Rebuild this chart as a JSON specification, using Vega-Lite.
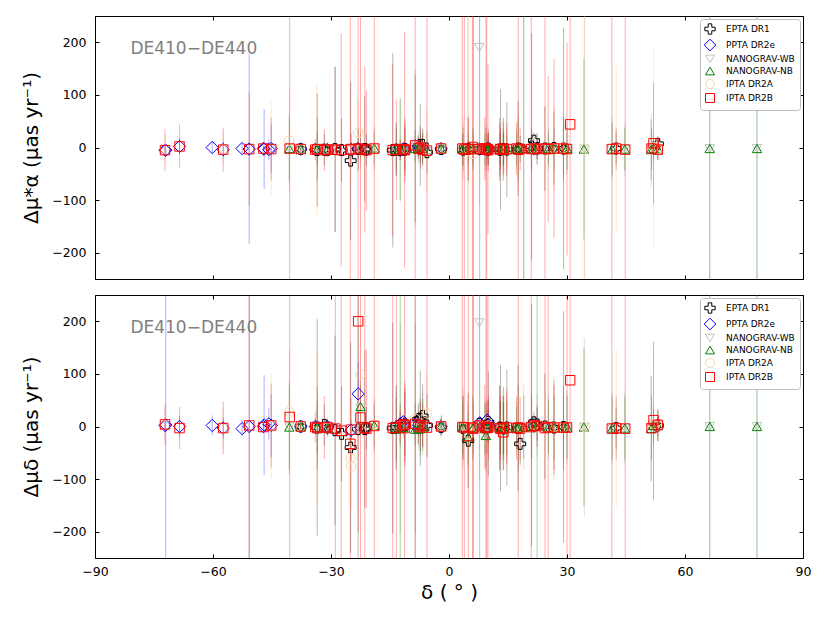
{
  "$schema": "https://vega.github.io/schema/vega-lite/v6.json",
  "padding": {"left": 21, "top": 15, "right": 25, "bottom": 18},
  "spacing": 16,
  "bounds": "flush",
  "datasets": {
    "pts": [
      {"c":"EPTA DR1","x":4.9,"a":-3,"al":-63,"ah":57,"d":-27,"dl":-117,"dh":63},
      {"c":"EPTA DR1","x":-5.6,"a":-9,"al":-49,"ah":31,"d":2,"dl":-58,"dh":62},
      {"c":"EPTA DR1","x":42.5,"a":-2,"al":-32,"ah":28,"d":-3,"dl":-43,"dh":37},
      {"c":"EPTA DR1","x":-21.0,"a":-4,"al":-34,"ah":26,"d":-3,"dl":-43,"dh":37},
      {"c":"EPTA DR1","x":-2.0,"a":-3,"al":-11,"ah":5,"d":-1,"dl":-16,"dh":14},
      {"c":"EPTA DR1","x":10.0,"a":-4,"al":-34,"ah":26,"d":8,"dl":-32,"dh":48},
      {"c":"EPTA DR1","x":18.1,"a":-3,"al":-28,"ah":22,"d":-33,"dl":-73,"dh":7},
      {"c":"EPTA DR1","x":-31.7,"a":-4,"al":-34,"ah":26,"d":3,"dl":-37,"dh":43},
      {"c":"EPTA DR1","x":53.1,"a":7,"al":-8,"ah":22,"d":2,"dl":-18,"dh":22},
      {"c":"EPTA DR1","x":10.0,"a":-2,"al":-32,"ah":28,"d":5,"dl":-95,"dh":105},
      {"c":"EPTA DR1","x":-7.3,"a":5,"al":-73,"ah":83,"d":15,"dl":-75,"dh":105},
      {"c":"EPTA DR1","x":-33.5,"a":-5,"al":-113,"ah":103,"d":-2,"dl":-208,"dh":204},
      {"c":"EPTA DR1","x":-30.9,"a":-5,"al":-15,"ah":5,"d":-2,"dl":-17,"dh":13},
      {"c":"EPTA DR1","x":22.4,"a":-2,"al":-22,"ah":18,"d":4,"dl":-26,"dh":34},
      {"c":"EPTA DR1","x":-12.4,"a":-5,"al":-25,"ah":15,"d":3,"dl":-37,"dh":43},
      {"c":"EPTA DR1","x":7.8,"a":-3,"al":-8,"ah":2,"d":5,"dl":-3,"dh":13},
      {"c":"EPTA DR1","x":-25.0,"a":-25,"al":-175,"ah":125,"d":-40,"dl":-240,"dh":160},
      {"c":"EPTA DR1","x":-23.1,"a":-3,"al":-43,"ah":37,"d":-5,"dl":-405,"dh":395},
      {"c":"EPTA DR1","x":3.6,"a":-4,"al":-34,"ah":26,"d":-3,"dl":-63,"dh":57},
      {"c":"EPTA DR1","x":-11.6,"a":-4,"al":-12,"ah":4,"d":2,"dl":-13,"dh":17},
      {"c":"EPTA DR1","x":-29.0,"a":-3,"al":-160,"ah":154,"d":-7,"dl":-187,"dh":173},
      {"c":"EPTA DR1","x":-14.3,"a":-5,"al":-190,"ah":180,"d":-3,"dl":-203,"dh":197},
      {"c":"EPTA DR1","x":-21.4,"a":-3,"al":-103,"ah":97,"d":-5,"dl":-155,"dh":145},
      {"c":"EPTA DR1","x":-27.3,"a":-5,"al":-65,"ah":55,"d":-14,"dl":-104,"dh":76},
      {"c":"EPTA DR1","x":-11.2,"a":-3,"al":-43,"ah":37,"d":4,"dl":-56,"dh":64},
      {"c":"EPTA DR1","x":13.1,"a":-4,"al":-119,"ah":111,"d":-3,"dl":-123,"dh":117},
      {"c":"EPTA DR1","x":9.7,"a":-3,"al":-23,"ah":17,"d":2,"dl":-28,"dh":32},
      {"c":"EPTA DR1","x":-37.7,"a":-3,"al":-8,"ah":2,"d":0,"dl":-10,"dh":10},
      {"c":"EPTA DR1","x":12.9,"a":-4,"al":-54,"ah":46,"d":-2,"dl":-82,"dh":78},
      {"c":"EPTA DR1","x":13.8,"a":-3,"al":-63,"ah":57,"d":-4,"dl":-84,"dh":76},
      {"c":"EPTA DR1","x":-11.2,"a":-4,"al":-54,"ah":46,"d":3,"dl":-67,"dh":73},
      {"c":"EPTA DR1","x":-6.7,"a":5,"al":-25,"ah":35,"d":20,"dl":-40,"dh":80},
      {"c":"EPTA DR1","x":21.6,"a":13,"al":-2,"ah":28,"d":8,"dl":-12,"dh":28},
      {"c":"EPTA DR1","x":29.1,"a":-2,"al":-232,"ah":228,"d":-1,"dl":-221,"dh":219},
      {"c":"EPTA DR1","x":-13.4,"a":-4,"al":-54,"ah":46,"d":-2,"dl":-82,"dh":78},
      {"c":"EPTA DR1","x":24.4,"a":-2,"al":-82,"ah":78,"d":0,"dl":-100,"dh":100},
      {"c":"EPTA DR1","x":17.6,"a":-2,"al":-92,"ah":88,"d":-3,"dl":-123,"dh":117},
      {"c":"EPTA DR1","x":-7.8,"a":3,"al":-17,"ah":23,"d":14,"dl":-16,"dh":44},
      {"c":"EPTA DR1","x":26.7,"a":-1,"al":-71,"ah":69,"d":-2,"dl":-92,"dh":88},
      {"c":"EPTA DR1","x":14.7,"a":-4,"al":-94,"ah":86,"d":-2,"dl":-112,"dh":108},
      {"c":"EPTA DR1","x":21.0,"a":2,"al":-213,"ah":217,"d":3,"dl":-227,"dh":233},
      {"c":"PPTA DR2e","x":-47.2,"a":-2,"al":-7,"ah":3,"d":0,"dl":-5,"dh":5},
      {"c":"PPTA DR2e","x":-2.0,"a":-2,"al":-12,"ah":8,"d":0,"dl":-15,"dh":15},
      {"c":"PPTA DR2e","x":-68.5,"a":2,"al":-13,"ah":17,"d":0,"dl":-20,"dh":20},
      {"c":"PPTA DR2e","x":-72.0,"a":-5,"al":-15,"ah":5,"d":3,"dl":-397,"dh":403},
      {"c":"PPTA DR2e","x":10.0,"a":-3,"al":-18,"ah":12,"d":3,"dl":-27,"dh":33},
      {"c":"PPTA DR2e","x":-7.3,"a":-2,"al":-12,"ah":8,"d":2,"dl":-18,"dh":22},
      {"c":"PPTA DR2e","x":-45.2,"a":-2,"al":-48,"ah":44,"d":2,"dl":-58,"dh":62},
      {"c":"PPTA DR2e","x":-60.2,"a":0,"al":-12,"ah":12,"d":2,"dl":-17,"dh":21},
      {"c":"PPTA DR2e","x":-47.0,"a":-3,"al":-79,"ah":73,"d":3,"dl":-92,"dh":98},
      {"c":"PPTA DR2e","x":-45.8,"a":-4,"al":-24,"ah":16,"d":5,"dl":-25,"dh":35},
      {"c":"PPTA DR2e","x":-30.9,"a":-4,"al":-14,"ah":6,"d":0,"dl":-10,"dh":10},
      {"c":"PPTA DR2e","x":-72.2,"a":-5,"al":-13,"ah":3,"d":2,"dl":-8,"dh":12},
      {"c":"PPTA DR2e","x":-12.4,"a":-5,"al":-15,"ah":5,"d":5,"dl":-15,"dh":25},
      {"c":"PPTA DR2e","x":7.8,"a":-3,"al":-8,"ah":2,"d":7,"dl":-1,"dh":15},
      {"c":"PPTA DR2e","x":-23.1,"a":-2,"al":-22,"ah":18,"d":62,"dl":2,"dh":122},
      {"c":"PPTA DR2e","x":-50.8,"a":-3,"al":-183,"ah":177,"d":0,"dl":-400,"dh":400},
      {"c":"PPTA DR2e","x":-11.6,"a":-3,"al":-8,"ah":2,"d":9,"dl":-1,"dh":19},
      {"c":"PPTA DR2e","x":-24.9,"a":-4,"al":-19,"ah":11,"d":-7,"dl":-27,"dh":13},
      {"c":"PPTA DR2e","x":-8.6,"a":3,"al":-27,"ah":33,"d":4,"dl":-36,"dh":44},
      {"c":"PPTA DR2e","x":9.7,"a":-3,"al":-13,"ah":7,"d":12,"dl":-3,"dh":27},
      {"c":"PPTA DR2e","x":-37.7,"a":-3,"al":-6,"ah":0,"d":0,"dl":-5,"dh":5},
      {"c":"PPTA DR2e","x":21.6,"a":-2,"al":-7,"ah":3,"d":3,"dl":-7,"dh":13},
      {"c":"PPTA DR2e","x":-34.0,"a":-4,"al":-14,"ah":6,"d":0,"dl":-15,"dh":15},
      {"c":"PPTA DR2e","x":-57.4,"a":-4,"al":-19,"ah":11,"d":-3,"dl":-23,"dh":17},
      {"c":"PPTA DR2e","x":-7.8,"a":2,"al":-8,"ah":12,"d":3,"dl":-12,"dh":18},
      {"c":"PPTA DR2e","x":-52.6,"a":-2,"al":-12,"ah":8,"d":-4,"dl":-19,"dh":11},
      {"c":"NANOGRAV-WB","x":9.4,"a":-3,"al":-53,"ah":47,"d":-15,"dl":-85,"dh":55},
      {"c":"NANOGRAV-WB","x":4.8,"a":-2,"al":-402,"ah":398,"d":-18,"dl":-78,"dh":42},
      {"c":"NANOGRAV-WB","x":41.5,"a":-3,"al":-63,"ah":57,"d":-3,"dl":-73,"dh":67},
      {"c":"NANOGRAV-WB","x":-2.0,"a":-2,"al":-12,"ah":8,"d":1,"dl":-19,"dh":21},
      {"c":"NANOGRAV-WB","x":51.4,"a":-4,"al":-74,"ah":66,"d":-3,"dl":-103,"dh":97},
      {"c":"NANOGRAV-WB","x":52.0,"a":-2,"al":-32,"ah":28,"d":2,"dl":-38,"dh":42},
      {"c":"NANOGRAV-WB","x":66.3,"a":-2,"al":-402,"ah":398,"d":0,"dl":-400,"dh":400},
      {"c":"NANOGRAV-WB","x":-19.0,"a":-1,"al":-41,"ah":39,"d":2,"dl":-48,"dh":52},
      {"c":"NANOGRAV-WB","x":53.1,"a":-3,"al":-23,"ah":17,"d":2,"dl":-28,"dh":32},
      {"c":"NANOGRAV-WB","x":-7.3,"a":2,"al":-38,"ah":42,"d":-3,"dl":-63,"dh":57},
      {"c":"NANOGRAV-WB","x":78.3,"a":-2,"al":-402,"ah":398,"d":0,"dl":-400,"dh":400},
      {"c":"NANOGRAV-WB","x":-33.5,"a":-3,"al":-43,"ah":37,"d":-2,"dl":-62,"dh":58},
      {"c":"NANOGRAV-WB","x":-30.9,"a":-4,"al":-19,"ah":11,"d":-2,"dl":-22,"dh":18},
      {"c":"NANOGRAV-WB","x":-22.5,"a":-2,"al":-32,"ah":28,"d":35,"dl":-15,"dh":85},
      {"c":"NANOGRAV-WB","x":22.4,"a":-2,"al":-32,"ah":28,"d":2,"dl":-58,"dh":62},
      {"c":"NANOGRAV-WB","x":-12.4,"a":-4,"al":-104,"ah":96,"d":-3,"dl":-203,"dh":197},
      {"c":"NANOGRAV-WB","x":7.7,"a":190,"al":-110,"ah":490,"d":197,"dl":-103,"dh":497},
      {"c":"NANOGRAV-WB","x":3.6,"a":-3,"al":-53,"ah":47,"d":-2,"dl":-72,"dh":68},
      {"c":"NANOGRAV-WB","x":-11.6,"a":-3,"al":-18,"ah":12,"d":-2,"dl":-22,"dh":18},
      {"c":"NANOGRAV-WB","x":-40.6,"a":-2,"al":-72,"ah":68,"d":-1,"dl":-91,"dh":89},
      {"c":"NANOGRAV-WB","x":-8.6,"a":-2,"al":-152,"ah":148,"d":-4,"dl":-204,"dh":196},
      {"c":"NANOGRAV-WB","x":13.1,"a":-3,"al":-43,"ah":37,"d":-2,"dl":-62,"dh":58},
      {"c":"NANOGRAV-WB","x":-37.7,"a":-3,"al":-8,"ah":2,"d":0,"dl":-5,"dh":5},
      {"c":"NANOGRAV-WB","x":-6.7,"a":-2,"al":-42,"ah":38,"d":3,"dl":-57,"dh":63},
      {"c":"NANOGRAV-WB","x":25.3,"a":-2,"al":-42,"ah":38,"d":-1,"dl":-61,"dh":59},
      {"c":"NANOGRAV-WB","x":21.6,"a":-2,"al":-17,"ah":13,"d":2,"dl":-18,"dh":22},
      {"c":"NANOGRAV-WB","x":-13.4,"a":-4,"al":-54,"ah":46,"d":-4,"dl":-74,"dh":66},
      {"c":"NANOGRAV-WB","x":17.2,"a":-3,"al":-43,"ah":37,"d":-3,"dl":-53,"dh":47},
      {"c":"NANOGRAV-WB","x":-7.8,"a":-1,"al":-31,"ah":29,"d":-4,"dl":-44,"dh":36},
      {"c":"NANOGRAV-WB","x":30.0,"a":-2,"al":-52,"ah":48,"d":-1,"dl":-71,"dh":69},
      {"c":"NANOGRAV-WB","x":44.7,"a":-3,"al":-53,"ah":47,"d":-3,"dl":-73,"dh":67},
      {"c":"NANOGRAV-WB","x":34.4,"a":-3,"al":-403,"ah":397,"d":-1,"dl":-171,"dh":169},
      {"c":"NANOGRAV-WB","x":14.7,"a":-3,"al":-43,"ah":37,"d":-3,"dl":-63,"dh":57},
      {"c":"NANOGRAV-WB","x":19.0,"a":-2,"al":-302,"ah":298,"d":-1,"dl":-81,"dh":79},
      {"c":"NANOGRAV-NB","x":9.4,"a":-3,"al":-43,"ah":37,"d":-17,"dl":-77,"dh":43},
      {"c":"NANOGRAV-NB","x":4.9,"a":-2,"al":-32,"ah":28,"d":-20,"dl":-70,"dh":30},
      {"c":"NANOGRAV-NB","x":41.5,"a":-3,"al":-53,"ah":47,"d":-3,"dl":-63,"dh":57},
      {"c":"NANOGRAV-NB","x":-2.0,"a":-2,"al":-12,"ah":8,"d":1,"dl":-19,"dh":21},
      {"c":"NANOGRAV-NB","x":51.4,"a":-4,"al":-62,"ah":54,"d":-4,"dl":-104,"dh":96},
      {"c":"NANOGRAV-NB","x":52.0,"a":-2,"al":-22,"ah":18,"d":2,"dl":-28,"dh":32},
      {"c":"NANOGRAV-NB","x":66.3,"a":-2,"al":-402,"ah":398,"d":0,"dl":-400,"dh":400},
      {"c":"NANOGRAV-NB","x":-19.0,"a":-1,"al":-31,"ah":29,"d":2,"dl":-38,"dh":42},
      {"c":"NANOGRAV-NB","x":53.1,"a":-3,"al":-23,"ah":17,"d":2,"dl":-28,"dh":32},
      {"c":"NANOGRAV-NB","x":-7.3,"a":2,"al":-28,"ah":32,"d":-4,"dl":-54,"dh":46},
      {"c":"NANOGRAV-NB","x":78.3,"a":-2,"al":-402,"ah":398,"d":0,"dl":-400,"dh":400},
      {"c":"NANOGRAV-NB","x":19.0,"a":-2,"al":-402,"ah":398,"d":-1,"dl":-61,"dh":59},
      {"c":"NANOGRAV-NB","x":-33.5,"a":-3,"al":-33,"ah":27,"d":-2,"dl":-52,"dh":48},
      {"c":"NANOGRAV-NB","x":-30.9,"a":-4,"al":-14,"ah":6,"d":-2,"dl":-17,"dh":13},
      {"c":"NANOGRAV-NB","x":-22.5,"a":-2,"al":-22,"ah":18,"d":38,"dl":-2,"dh":78},
      {"c":"NANOGRAV-NB","x":22.4,"a":-2,"al":-22,"ah":18,"d":2,"dl":-398,"dh":402},
      {"c":"NANOGRAV-NB","x":-12.4,"a":-4,"al":-100,"ah":92,"d":-3,"dl":-403,"dh":397},
      {"c":"NANOGRAV-NB","x":7.8,"a":-3,"al":-403,"ah":397,"d":0,"dl":-400,"dh":400},
      {"c":"NANOGRAV-NB","x":3.6,"a":-3,"al":-43,"ah":37,"d":-2,"dl":-62,"dh":58},
      {"c":"NANOGRAV-NB","x":13.9,"a":-4,"al":-34,"ah":26,"d":-3,"dl":-53,"dh":47},
      {"c":"NANOGRAV-NB","x":-11.6,"a":-3,"al":-13,"ah":7,"d":-2,"dl":-17,"dh":13},
      {"c":"NANOGRAV-NB","x":-40.6,"a":-2,"al":-62,"ah":58,"d":-1,"dl":-81,"dh":79},
      {"c":"NANOGRAV-NB","x":-8.6,"a":-2,"al":-142,"ah":138,"d":-5,"dl":-405,"dh":395},
      {"c":"NANOGRAV-NB","x":13.1,"a":-3,"al":-33,"ah":27,"d":-2,"dl":-52,"dh":48},
      {"c":"NANOGRAV-NB","x":9.7,"a":-2,"al":-12,"ah":8,"d":-3,"dl":-23,"dh":17},
      {"c":"NANOGRAV-NB","x":3.45,"a":-3,"al":-33,"ah":27,"d":-2,"dl":-52,"dh":48},
      {"c":"NANOGRAV-NB","x":-37.7,"a":-3,"al":-6,"ah":0,"d":0,"dl":-5,"dh":5},
      {"c":"NANOGRAV-NB","x":12.9,"a":-3,"al":-33,"ah":27,"d":-2,"dl":-52,"dh":48},
      {"c":"NANOGRAV-NB","x":13.8,"a":-2,"al":-32,"ah":28,"d":-4,"dl":-54,"dh":46},
      {"c":"NANOGRAV-NB","x":-6.7,"a":-2,"al":-32,"ah":28,"d":3,"dl":-47,"dh":53},
      {"c":"NANOGRAV-NB","x":25.3,"a":-2,"al":-32,"ah":28,"d":-1,"dl":-51,"dh":49},
      {"c":"NANOGRAV-NB","x":21.6,"a":-2,"al":-12,"ah":8,"d":2,"dl":-13,"dh":17},
      {"c":"NANOGRAV-NB","x":9.1,"a":-3,"al":-33,"ah":27,"d":-4,"dl":-54,"dh":46},
      {"c":"NANOGRAV-NB","x":29.1,"a":-1,"al":-51,"ah":49,"d":-2,"dl":-62,"dh":58},
      {"c":"NANOGRAV-NB","x":-13.4,"a":-4,"al":-44,"ah":36,"d":-5,"dl":-65,"dh":55},
      {"c":"NANOGRAV-NB","x":6.05,"a":-2,"al":-42,"ah":38,"d":-3,"dl":-63,"dh":57},
      {"c":"NANOGRAV-NB","x":17.6,"a":-3,"al":-63,"ah":57,"d":-2,"dl":-82,"dh":78},
      {"c":"NANOGRAV-NB","x":17.2,"a":-3,"al":-33,"ah":27,"d":-3,"dl":-43,"dh":37},
      {"c":"NANOGRAV-NB","x":-7.8,"a":-1,"al":-21,"ah":19,"d":-5,"dl":-35,"dh":25},
      {"c":"NANOGRAV-NB","x":30.0,"a":-2,"al":-42,"ah":38,"d":-1,"dl":-61,"dh":59},
      {"c":"NANOGRAV-NB","x":26.7,"a":-2,"al":-42,"ah":38,"d":-2,"dl":-62,"dh":58},
      {"c":"NANOGRAV-NB","x":6.2,"a":-2,"al":-32,"ah":28,"d":-2,"dl":-52,"dh":48},
      {"c":"NANOGRAV-NB","x":9.7,"a":-3,"al":-33,"ah":27,"d":-1,"dl":-51,"dh":49},
      {"c":"NANOGRAV-NB","x":44.7,"a":-3,"al":-43,"ah":37,"d":-3,"dl":-63,"dh":57},
      {"c":"NANOGRAV-NB","x":14.7,"a":-3,"al":-33,"ah":27,"d":-3,"dl":-53,"dh":47},
      {"c":"NANOGRAV-NB","x":34.3,"a":-3,"al":-175,"ah":169,"d":-1,"dl":-151,"dh":149},
      {"c":"NANOGRAV-NB","x":21.0,"a":-2,"al":-42,"ah":38,"d":0,"dl":-60,"dh":60},
      {"c":"IPTA DR2A","x":-72.2,"a":-4,"al":-34,"ah":26,"d":3,"dl":-27,"dh":33},
      {"c":"IPTA DR2A","x":-57.4,"a":-3,"al":-33,"ah":27,"d":-4,"dl":-44,"dh":36},
      {"c":"IPTA DR2A","x":-45.2,"a":-3,"al":-93,"ah":87,"d":1,"dl":-99,"dh":101},
      {"c":"IPTA DR2A","x":-40.6,"a":13,"al":-87,"ah":113,"d":28,"dl":-92,"dh":148},
      {"c":"IPTA DR2A","x":-37.7,"a":-3,"al":-8,"ah":2,"d":0,"dl":-5,"dh":5},
      {"c":"IPTA DR2A","x":-33.6,"a":-4,"al":-130,"ah":122,"d":-2,"dl":-152,"dh":148},
      {"c":"IPTA DR2A","x":-30.9,"a":-4,"al":-14,"ah":6,"d":-2,"dl":-17,"dh":13},
      {"c":"IPTA DR2A","x":-25.0,"a":-5,"al":-65,"ah":55,"d":-60,"dl":-160,"dh":40},
      {"c":"IPTA DR2A","x":-24.9,"a":-4,"al":-34,"ah":26,"d":-76,"dl":-156,"dh":4},
      {"c":"IPTA DR2A","x":-23.1,"a":28,"al":-32,"ah":88,"d":-2,"dl":-62,"dh":58},
      {"c":"IPTA DR2A","x":-22.5,"a":-3,"al":-43,"ah":37,"d":99,"dl":-1,"dh":199},
      {"c":"IPTA DR2A","x":-19.0,"a":-2,"al":-42,"ah":38,"d":3,"dl":-47,"dh":53},
      {"c":"IPTA DR2A","x":-12.4,"a":-4,"al":-24,"ah":16,"d":2,"dl":-28,"dh":32},
      {"c":"IPTA DR2A","x":-11.6,"a":-3,"al":-13,"ah":7,"d":3,"dl":-12,"dh":18},
      {"c":"IPTA DR2A","x":-8.6,"a":3,"al":-47,"ah":53,"d":15,"dl":-45,"dh":75},
      {"c":"IPTA DR2A","x":-5.6,"a":-6,"al":-86,"ah":74,"d":25,"dl":-55,"dh":105},
      {"c":"IPTA DR2A","x":-2.0,"a":-2,"al":-12,"ah":8,"d":1,"dl":-14,"dh":16},
      {"c":"IPTA DR2A","x":3.6,"a":-3,"al":-63,"ah":57,"d":-2,"dl":-82,"dh":78},
      {"c":"IPTA DR2A","x":4.9,"a":-3,"al":-403,"ah":397,"d":-15,"dl":-95,"dh":65},
      {"c":"IPTA DR2A","x":6.1,"a":-12,"al":-412,"ah":388,"d":-3,"dl":-403,"dh":397},
      {"c":"IPTA DR2A","x":7.8,"a":-2,"al":-7,"ah":3,"d":3,"dl":-7,"dh":13},
      {"c":"IPTA DR2A","x":9.7,"a":-4,"al":-34,"ah":26,"d":8,"dl":-32,"dh":48},
      {"c":"IPTA DR2A","x":10.0,"a":-3,"al":-33,"ah":27,"d":2,"dl":-38,"dh":42},
      {"c":"IPTA DR2A","x":12.9,"a":-3,"al":-63,"ah":57,"d":-6,"dl":-86,"dh":74},
      {"c":"IPTA DR2A","x":14.7,"a":-4,"al":-64,"ah":56,"d":-3,"dl":-83,"dh":77},
      {"c":"IPTA DR2A","x":17.6,"a":-3,"al":-83,"ah":77,"d":-2,"dl":-82,"dh":78},
      {"c":"IPTA DR2A","x":21.6,"a":-2,"al":-7,"ah":3,"d":3,"dl":-7,"dh":13},
      {"c":"IPTA DR2A","x":24.4,"a":-3,"al":-83,"ah":77,"d":-1,"dl":-101,"dh":99},
      {"c":"IPTA DR2A","x":26.7,"a":-2,"al":-82,"ah":78,"d":-1,"dl":-101,"dh":99},
      {"c":"IPTA DR2A","x":29.1,"a":-1,"al":-81,"ah":79,"d":-2,"dl":-102,"dh":98},
      {"c":"IPTA DR2A","x":34.5,"a":-2,"al":-402,"ah":398,"d":-1,"dl":-151,"dh":149},
      {"c":"IPTA DR2A","x":42.5,"a":-2,"al":-160,"ah":156,"d":-3,"dl":-153,"dh":147},
      {"c":"IPTA DR2A","x":52.0,"a":1,"al":-189,"ah":191,"d":5,"dl":-145,"dh":155},
      {"c":"IPTA DR2A","x":53.1,"a":-3,"al":-23,"ah":17,"d":2,"dl":-28,"dh":32},
      {"c":"IPTA DR2B","x":-72.2,"a":-5,"al":-45,"ah":35,"d":4,"dl":-36,"dh":44},
      {"c":"IPTA DR2B","x":-68.5,"a":2,"al":-40,"ah":44,"d":-3,"dl":-43,"dh":37},
      {"c":"IPTA DR2B","x":-57.4,"a":-4,"al":-46,"ah":38,"d":-3,"dl":-53,"dh":47},
      {"c":"IPTA DR2B","x":-50.8,"a":-3,"al":-111,"ah":105,"d":2,"dl":-398,"dh":402},
      {"c":"IPTA DR2B","x":-47.2,"a":-2,"al":-7,"ah":3,"d":-1,"dl":-6,"dh":4},
      {"c":"IPTA DR2B","x":-45.2,"a":-3,"al":-63,"ah":57,"d":2,"dl":-78,"dh":82},
      {"c":"IPTA DR2B","x":-40.5,"a":-2,"al":-402,"ah":398,"d":18,"dl":-382,"dh":418},
      {"c":"IPTA DR2B","x":-37.7,"a":-3,"al":-6,"ah":0,"d":0,"dl":-5,"dh":5},
      {"c":"IPTA DR2B","x":-34.0,"a":-4,"al":-24,"ah":16,"d":-1,"dl":-31,"dh":29},
      {"c":"IPTA DR2B","x":-33.5,"a":-3,"al":-63,"ah":57,"d":-3,"dl":-83,"dh":77},
      {"c":"IPTA DR2B","x":-31.7,"a":-5,"al":-45,"ah":35,"d":-2,"dl":-62,"dh":58},
      {"c":"IPTA DR2B","x":-30.9,"a":-4,"al":-14,"ah":6,"d":-1,"dl":-16,"dh":14},
      {"c":"IPTA DR2B","x":-28.9,"a":-4,"al":-161,"ah":153,"d":-4,"dl":-404,"dh":396},
      {"c":"IPTA DR2B","x":-27.4,"a":-5,"al":-227,"ah":217,"d":-8,"dl":-408,"dh":392},
      {"c":"IPTA DR2B","x":-25.1,"a":-4,"al":-404,"ah":396,"d":-33,"dl":-433,"dh":367},
      {"c":"IPTA DR2B","x":-24.9,"a":-3,"al":-33,"ah":27,"d":-6,"dl":-66,"dh":54},
      {"c":"IPTA DR2B","x":-23.1,"a":-2,"al":-402,"ah":398,"d":200,"dl":-200,"dh":600},
      {"c":"IPTA DR2B","x":-22.5,"a":-3,"al":-403,"ah":397,"d":17,"dl":-383,"dh":417},
      {"c":"IPTA DR2B","x":-21.4,"a":-4,"al":-162,"ah":154,"d":-2,"dl":-402,"dh":398},
      {"c":"IPTA DR2B","x":-21.0,"a":-5,"al":-119,"ah":109,"d":-4,"dl":-154,"dh":146},
      {"c":"IPTA DR2B","x":-19.0,"a":-2,"al":-402,"ah":398,"d":1,"dl":-399,"dh":401},
      {"c":"IPTA DR2B","x":-14.3,"a":-5,"al":-169,"ah":159,"d":-3,"dl":-403,"dh":397},
      {"c":"IPTA DR2B","x":-13.4,"a":-4,"al":-99,"ah":91,"d":-2,"dl":-402,"dh":398},
      {"c":"IPTA DR2B","x":-12.4,"a":-4,"al":-24,"ah":16,"d":2,"dl":-28,"dh":32},
      {"c":"IPTA DR2B","x":-11.6,"a":-3,"al":-11,"ah":5,"d":4,"dl":-11,"dh":19},
      {"c":"IPTA DR2B","x":-11.3,"a":-4,"al":-228,"ah":220,"d":-3,"dl":-403,"dh":397},
      {"c":"IPTA DR2B","x":-11.2,"a":-5,"al":-65,"ah":55,"d":3,"dl":-77,"dh":83},
      {"c":"IPTA DR2B","x":-8.6,"a":4,"al":-396,"ah":404,"d":5,"dl":-395,"dh":405},
      {"c":"IPTA DR2B","x":-7.8,"a":-2,"al":-22,"ah":18,"d":-1,"dl":-31,"dh":29},
      {"c":"IPTA DR2B","x":-7.3,"a":0,"al":-40,"ah":40,"d":3,"dl":-47,"dh":53},
      {"c":"IPTA DR2B","x":-6.7,"a":-4,"al":-34,"ah":26,"d":2,"dl":-38,"dh":42},
      {"c":"IPTA DR2B","x":-5.6,"a":-6,"al":-406,"ah":394,"d":-2,"dl":-402,"dh":398},
      {"c":"IPTA DR2B","x":-2.0,"a":-2,"al":-12,"ah":8,"d":0,"dl":-15,"dh":15},
      {"c":"IPTA DR2B","x":3.4,"a":-2,"al":-402,"ah":398,"d":-1,"dl":-401,"dh":399},
      {"c":"IPTA DR2B","x":3.9,"a":-4,"al":-404,"ah":396,"d":-2,"dl":-402,"dh":398},
      {"c":"IPTA DR2B","x":4.9,"a":-3,"al":-63,"ah":57,"d":-18,"dl":-418,"dh":382},
      {"c":"IPTA DR2B","x":6.0,"a":1,"al":-399,"ah":401,"d":-2,"dl":-402,"dh":398},
      {"c":"IPTA DR2B","x":6.2,"a":-3,"al":-403,"ah":397,"d":-4,"dl":-404,"dh":396},
      {"c":"IPTA DR2B","x":7.8,"a":-3,"al":-8,"ah":2,"d":2,"dl":-6,"dh":10},
      {"c":"IPTA DR2B","x":9.1,"a":-2,"al":-62,"ah":58,"d":-1,"dl":-81,"dh":79},
      {"c":"IPTA DR2B","x":9.4,"a":-2,"al":-402,"ah":398,"d":-3,"dl":-403,"dh":397},
      {"c":"IPTA DR2B","x":9.6,"a":-4,"al":-404,"ah":396,"d":-2,"dl":-402,"dh":398},
      {"c":"IPTA DR2B","x":9.9,"a":-3,"al":-165,"ah":159,"d":-1,"dl":-401,"dh":399},
      {"c":"IPTA DR2B","x":10.0,"a":-5,"al":-45,"ah":35,"d":-2,"dl":-62,"dh":58},
      {"c":"IPTA DR2B","x":12.9,"a":-4,"al":-64,"ah":56,"d":-3,"dl":-83,"dh":77},
      {"c":"IPTA DR2B","x":13.1,"a":-3,"al":-43,"ah":37,"d":-4,"dl":-64,"dh":56},
      {"c":"IPTA DR2B","x":13.8,"a":-2,"al":-52,"ah":48,"d":-11,"dl":-81,"dh":59},
      {"c":"IPTA DR2B","x":13.9,"a":-4,"al":-44,"ah":36,"d":-3,"dl":-63,"dh":57},
      {"c":"IPTA DR2B","x":14.7,"a":-3,"al":-53,"ah":47,"d":-2,"dl":-72,"dh":68},
      {"c":"IPTA DR2B","x":17.2,"a":-2,"al":-52,"ah":48,"d":-3,"dl":-63,"dh":57},
      {"c":"IPTA DR2B","x":17.6,"a":-4,"al":-404,"ah":396,"d":-2,"dl":-402,"dh":398},
      {"c":"IPTA DR2B","x":18.1,"a":-3,"al":-43,"ah":37,"d":-4,"dl":-64,"dh":56},
      {"c":"IPTA DR2B","x":20.9,"a":-3,"al":-403,"ah":397,"d":-1,"dl":-401,"dh":399},
      {"c":"IPTA DR2B","x":21.6,"a":-2,"al":-7,"ah":3,"d":2,"dl":-8,"dh":12},
      {"c":"IPTA DR2B","x":22.4,"a":-3,"al":-33,"ah":27,"d":1,"dl":-39,"dh":41},
      {"c":"IPTA DR2B","x":24.4,"a":-2,"al":-402,"ah":398,"d":-3,"dl":-403,"dh":397},
      {"c":"IPTA DR2B","x":25.2,"a":-3,"al":-142,"ah":136,"d":-1,"dl":-401,"dh":399},
      {"c":"IPTA DR2B","x":26.7,"a":-2,"al":-172,"ah":168,"d":-2,"dl":-82,"dh":78},
      {"c":"IPTA DR2B","x":29.1,"a":-2,"al":-62,"ah":58,"d":-2,"dl":-82,"dh":78},
      {"c":"IPTA DR2B","x":30.0,"a":-3,"al":-205,"ah":199,"d":-2,"dl":-402,"dh":398},
      {"c":"IPTA DR2B","x":30.8,"a":44,"al":-356,"ah":444,"d":88,"dl":-312,"dh":488},
      {"c":"IPTA DR2B","x":41.4,"a":-3,"al":-403,"ah":397,"d":-4,"dl":-404,"dh":396},
      {"c":"IPTA DR2B","x":42.5,"a":-2,"al":-42,"ah":38,"d":-3,"dl":-63,"dh":57},
      {"c":"IPTA DR2B","x":44.8,"a":-4,"al":-404,"ah":396,"d":-4,"dl":-404,"dh":396},
      {"c":"IPTA DR2B","x":51.5,"a":-2,"al":-42,"ah":38,"d":-3,"dl":-63,"dh":57},
      {"c":"IPTA DR2B","x":52.0,"a":8,"al":-107,"ah":123,"d":12,"dl":-138,"dh":162},
      {"c":"IPTA DR2B","x":53.1,"a":-4,"al":-24,"ah":16,"d":3,"dl":-27,"dh":33}
    ],
    "lab": [{"x": -81, "y": 188, "t": "DE410−DE440"}]
  },
  "vconcat": [
    {
      "width": 708,
      "height": 263,
      "layer": [
        {
          "data": {"name": "pts"},
          "mark": {"type": "rule", "clip": true, "strokeWidth": 1, "opacity": 0.32},
          "encoding": {
            "x": {"field": "x", "type": "quantitative", "scale": {"domain": [-90, 90], "nice": false},
                  "axis": {"orient": "top", "labels": false, "title": null, "values": [-90, -60, -30, 0, 30, 60, 90]}},
            "y": {"field": "al", "type": "quantitative", "scale": {"domain": [-250, 250], "nice": false},
                  "axis": {"orient": "right", "labels": false, "title": null, "values": [-200, -100, 0, 100, 200]}},
            "y2": {"field": "ah"},
            "stroke": {"field": "c", "type": "nominal", "legend": null,
                       "scale": {"domain": ["EPTA DR1", "PPTA DR2e", "NANOGRAV-WB", "NANOGRAV-NB", "IPTA DR2A", "IPTA DR2B"],
                                 "range": ["#202020", "#0000ff", "#a0a0a0", "#008000", "#ffb870", "#ff0000"]}}
          }
        },
        {
          "data": {"name": "pts"},
          "mark": {"type": "point", "filled": false, "strokeWidth": 1, "opacity": 1, "size": 90},
          "encoding": {
            "x": {"field": "x", "type": "quantitative", "scale": {"domain": [-90, 90], "nice": false},
                  "axis": {"orient": "bottom", "labels": false, "title": null, "values": [-90, -60, -30, 0, 30, 60, 90]}},
            "y": {"field": "a", "type": "quantitative", "scale": {"domain": [-250, 250], "nice": false},
                  "axis": {"orient": "left", "title": "Δμ*α (μas yr⁻¹)", "values": [-200, -100, 0, 100, 200]}},
            "color": {"field": "c", "type": "nominal",
                      "legend": {"title": null},
                      "scale": {"domain": ["EPTA DR1", "PPTA DR2e", "NANOGRAV-WB", "NANOGRAV-NB", "IPTA DR2A", "IPTA DR2B"],
                                "range": ["#000000", "#0000ff", "#c4c4c4", "#008000", "#fdd2a8", "#ff0000"]}},
            "shape": {"field": "c", "type": "nominal",
                      "legend": {"title": null},
                      "scale": {"domain": ["EPTA DR1", "PPTA DR2e", "NANOGRAV-WB", "NANOGRAV-NB", "IPTA DR2A", "IPTA DR2B"],
                                "range": ["M -0.4 -1.15 L 0.4 -1.15 L 0.4 -0.4 L 1.15 -0.4 L 1.15 0.4 L 0.4 0.4 L 0.4 1.15 L -0.4 1.15 L -0.4 0.4 L -1.15 0.4 L -1.15 -0.4 L -0.4 -0.4 Z", "M -1.3 0 L 0 -1.3 L 1.3 0 L 0 1.3 Z", "triangle-down", "triangle-up", "circle", "square"]}}
          }
        },
        {
          "data": {"name": "lab"},
          "mark": {"type": "text", "align": "left", "baseline": "middle", "fontSize": 17, "color": "#808080"},
          "encoding": {
            "x": {"field": "x", "type": "quantitative", "axis": null},
            "y": {"field": "y", "type": "quantitative", "axis": null},
            "text": {"field": "t"}
          }
        }
      ],
      "resolve": {"axis": {"x": "independent", "y": "independent"}}
    },
    {
      "width": 708,
      "height": 263,
      "layer": [
        {
          "data": {"name": "pts"},
          "mark": {"type": "rule", "clip": true, "strokeWidth": 1, "opacity": 0.32},
          "encoding": {
            "x": {"field": "x", "type": "quantitative", "scale": {"domain": [-90, 90], "nice": false},
                  "axis": {"orient": "top", "labels": false, "title": null, "values": [-90, -60, -30, 0, 30, 60, 90]}},
            "y": {"field": "dl", "type": "quantitative", "scale": {"domain": [-250, 250], "nice": false},
                  "axis": {"orient": "right", "labels": false, "title": null, "values": [-200, -100, 0, 100, 200]}},
            "y2": {"field": "dh"},
            "stroke": {"field": "c", "type": "nominal", "legend": null,
                       "scale": {"domain": ["EPTA DR1", "PPTA DR2e", "NANOGRAV-WB", "NANOGRAV-NB", "IPTA DR2A", "IPTA DR2B"],
                                 "range": ["#202020", "#0000ff", "#a0a0a0", "#008000", "#ffb870", "#ff0000"]}}
          }
        },
        {
          "data": {"name": "pts"},
          "mark": {"type": "point", "filled": false, "strokeWidth": 1, "opacity": 1, "size": 90},
          "encoding": {
            "x": {"field": "x", "type": "quantitative", "scale": {"domain": [-90, 90], "nice": false},
                  "axis": {"orient": "bottom", "title": "δ ( ° )", "values": [-90, -60, -30, 0, 30, 60, 90], "labelPadding": 11, "titlePadding": 5}},
            "y": {"field": "d", "type": "quantitative", "scale": {"domain": [-250, 250], "nice": false},
                  "axis": {"orient": "left", "title": "Δμδ (μas yr⁻¹)", "values": [-200, -100, 0, 100, 200]}},
            "color": {"field": "c", "type": "nominal",
                      "legend": {"title": null},
                      "scale": {"domain": ["EPTA DR1", "PPTA DR2e", "NANOGRAV-WB", "NANOGRAV-NB", "IPTA DR2A", "IPTA DR2B"],
                                "range": ["#000000", "#0000ff", "#c4c4c4", "#008000", "#fdd2a8", "#ff0000"]}},
            "shape": {"field": "c", "type": "nominal",
                      "legend": {"title": null},
                      "scale": {"domain": ["EPTA DR1", "PPTA DR2e", "NANOGRAV-WB", "NANOGRAV-NB", "IPTA DR2A", "IPTA DR2B"],
                                "range": ["M -0.4 -1.15 L 0.4 -1.15 L 0.4 -0.4 L 1.15 -0.4 L 1.15 0.4 L 0.4 0.4 L 0.4 1.15 L -0.4 1.15 L -0.4 0.4 L -1.15 0.4 L -1.15 -0.4 L -0.4 -0.4 Z", "M -1.3 0 L 0 -1.3 L 1.3 0 L 0 1.3 Z", "triangle-down", "triangle-up", "circle", "square"]}}
          }
        },
        {
          "data": {"name": "lab"},
          "mark": {"type": "text", "align": "left", "baseline": "middle", "fontSize": 17, "color": "#808080"},
          "encoding": {
            "x": {"field": "x", "type": "quantitative", "axis": null},
            "y": {"field": "y", "type": "quantitative", "axis": null},
            "text": {"field": "t"}
          }
        }
      ],
      "resolve": {"axis": {"x": "independent", "y": "independent"}}
    }
  ],
  "resolve": {"legend": {"color": "independent", "shape": "independent"}},
  "config": {
    "font": "DejaVu Sans",
    "view": {"stroke": "black", "strokeWidth": 1},
    "axis": {
      "domain": false,
      "grid": false,
      "ticks": true,
      "tickSize": -4,
      "tickColor": "black",
      "tickWidth": 1,
      "labelPadding": 13,
      "labelFlush": false,
      "labelFont": "DejaVu Sans",
      "labelFontSize": 12.5,
      "labelColor": "black",
      "titleFont": "DejaVu Sans",
      "titleFontSize": 20,
      "titleFontWeight": "normal",
      "titleColor": "black",
      "titlePadding": 10
    },
    "legend": {
      "orient": "top-right",
      "offset": 3,
      "padding": 5,
      "rowPadding": 0,
      "symbolSize": 80,
      "labelFont": "DejaVu Sans",
      "labelFontSize": 9,
      "labelColor": "black",
      "labelOffset": 11,
      "strokeColor": "#bdbdbd",
      "fillColor": "#ffffff",
      "cornerRadius": 3,
      "symbolStrokeWidth": 1
    }
  }
}
